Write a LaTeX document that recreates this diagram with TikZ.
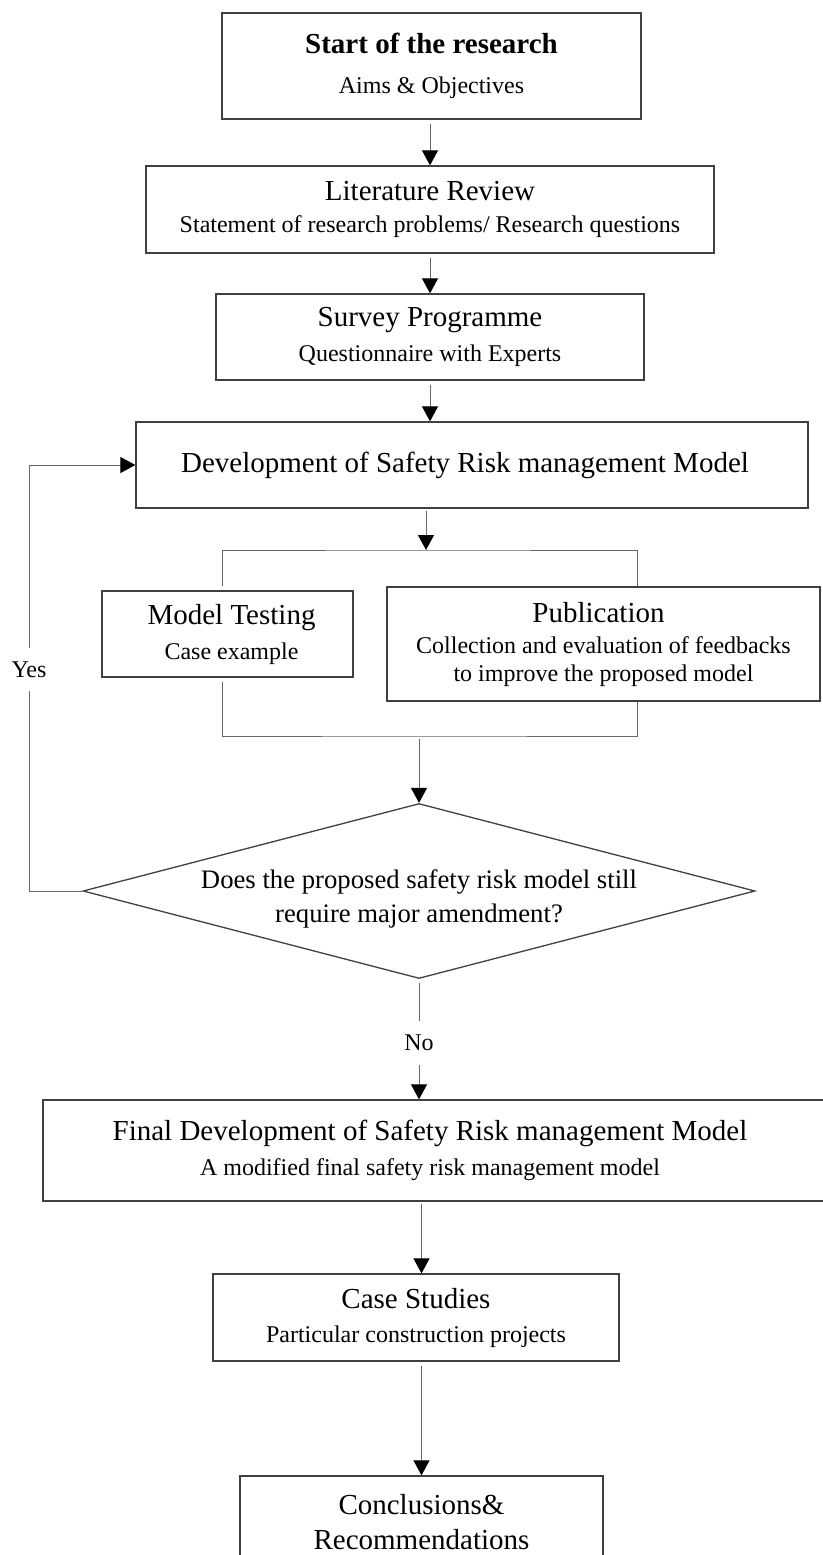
\documentclass[tikz,border=0pt]{standalone}
\usepackage{fontspec}
\setmainfont{Liberation Serif}
\usetikzlibrary{arrows.meta,positioning,shapes.geometric}
\definecolor{Ink}{HTML}{000000}
\definecolor{Edge}{HTML}{404040}
\definecolor{Wire}{HTML}{666666}
\newcommand{\hd}[1]{{\fontsize{29}{34}\selectfont #1}}

\begin{document}
\begin{tikzpicture}[
  x=1pt, y=-1pt,
  stepbox/.style={draw=Edge, line width=1.3pt, inner sep=0pt, align=center, font=\fontsize{24}{34}\selectfont},
  query/.style={draw=Edge, line width=1.3pt, diamond, aspect=3.84, inner sep=0pt, text height=43.9pt, text depth=16.1pt, font=\fontsize{26.7}{34}\selectfont},
  arr/.style={-{Triangle[length=15pt,width=16pt,color=Ink]}, line width=1pt, draw=Wire},
  wire/.style={line width=1pt, draw=Wire},
  tag/.style={fill=white, inner xsep=2pt, inner ysep=14pt, font=\fontsize{24}{34}\selectfont},
]
\useasboundingbox (0,0) rectangle (822,1555);
\node[stepbox, minimum width=419pt, minimum height=106pt] (start) at (431.5,66) {\hd{\textbf{Start of the research}}\\[6pt]Aims \& Objectives};
\node[stepbox, minimum width=568pt, minimum height=87pt] (lit) at (430,209.5) {\hd{Literature Review}\\[-2pt]Statement of research problems/ Research questions};
\node[stepbox, minimum width=428pt, minimum height=86pt] (survey) at (430,337) {\hd{Survey Programme}\\[1pt]Questionnaire with Experts};
\node[stepbox, minimum width=672pt, minimum height=86pt] (dev) at (472,465) {\hd{Development of Safety Risk management Model}\hspace*{14pt}};
\node[stepbox, minimum width=251pt, minimum height=86pt] (test) at (227.5,634) {\hspace*{8pt}\hd{Model Testing}\\[1pt]\hspace*{8pt}Case example};
\node[stepbox, minimum width=433pt, minimum height=114pt] (pub) at (603.5,644) {\hd{Publication}\hspace*{10pt}\\[-3pt]Collection and evaluation of feedbacks\\[-6pt]to improve the proposed model};
\node[query, minimum width=672pt, minimum height=175pt] (ask) at (419,891) {\begin{tabular}{@{}c@{}}Does the proposed safety risk model still\\require major amendment?\end{tabular}};
\node[stepbox, minimum width=787pt, minimum height=101pt] (final) at (436.5,1150.5) {\hd{Final Development of Safety Risk management Model}\hspace*{13pt}\\[1pt]A modified final safety risk management model\hspace*{13pt}};
\node[stepbox, minimum width=406pt, minimum height=87pt] (case) at (416,1317.5) {\hd{Case Studies}\\[0pt]Particular construction projects};
\node[stepbox, minimum width=363pt, minimum height=92pt, font=\fontsize{29}{34}\selectfont] (concl) at (421.5,1522) {Conclusions\&\\[1pt]Recommendations};

% main line
\draw[arr, shorten <=4pt] (lit.north |- start.south) -- (lit.north);
\draw[arr, shorten <=4pt] (lit.south) -- (survey.north);
\draw[arr, shorten <=4pt] (survey.south) -- (survey.south |- dev.north);

% fork to testing and publication
\coordinate (ft) at (426,550);
\coordinate (fl) at (222,586);
\coordinate (fr) at (637,586);
\coordinate (jl) at (222,682);
\coordinate (jb) at (419,736);
\draw[arr, shorten <=2pt] (dev.south -| ft) -- (ft);
\draw[wire] (fl) |- (ft) -| (fr);
\draw[wire] (jl) |- (jb) -| (pub.south -| fr);
\draw[arr, shorten <=3pt] (jb) -- (ask.north);

% decision
\coordinate (back) at (29,891);
\draw[arr] (ask.west) -- (back) |- node[tag, pos=0.26] {Yes} (dev.west);
\draw[arr, shorten <=4pt] (ask.south) -- node[tag, pos=0.53] {No} (ask.south |- final.north);

% end
\draw[arr, shorten <=2pt] (concl.north |- final.south) -- (concl.north |- case.north);
\draw[arr, shorten <=4pt] (concl.north |- case.south) -- (concl.north);
\end{tikzpicture}
\end{document}
